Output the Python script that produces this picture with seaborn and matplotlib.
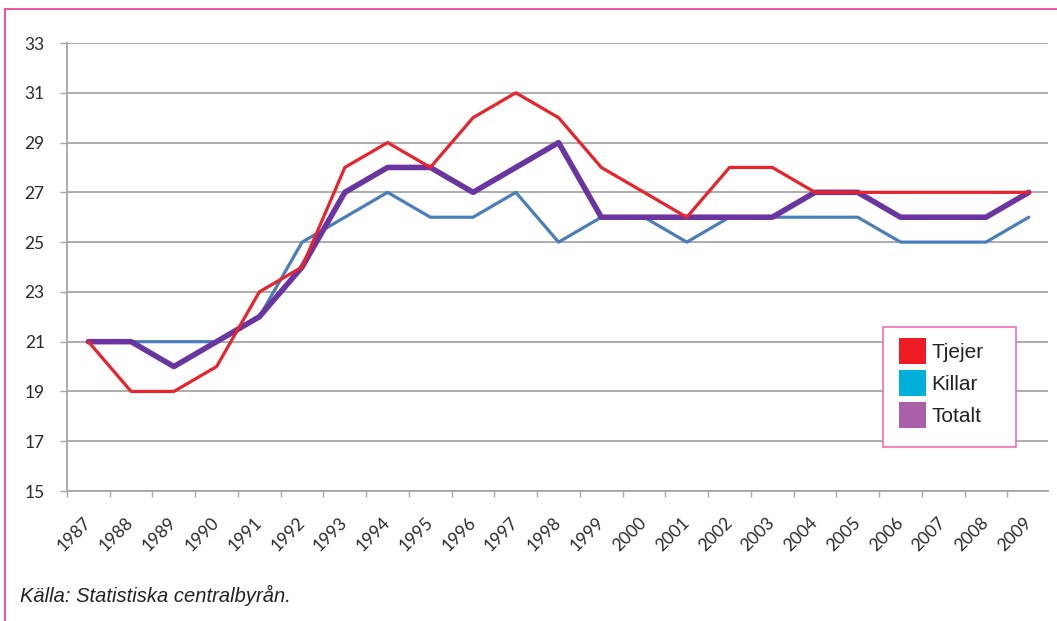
import matplotlib
matplotlib.use("Agg")
import matplotlib.pyplot as plt
import matplotlib.patches as mpatches
import matplotlib.lines as mlines
import seaborn as sns
import pandas as pd
import numpy as np

years = list(range(1987, 2010))
tjejer = [21, 19, 19, 20, 23, 24, 28, 29, 28, 30, 31, 30, 28, 27, 26, 28, 28, 27, 27, 27, 27, 27, 27]
killar = [21, 21, 21, 21, 22, 25, 26, 27, 26, 26, 27, 25, 26, 26, 25, 26, 26, 26, 26, 25, 25, 25, 26]
totalt = [21, 21, 20, 21, 22, 24, 27, 28, 28, 27, 28, 29, 26, 26, 26, 26, 26, 27, 27, 26, 26, 26, 27]
y_ticks = [15, 17, 19, 21, 23, 25, 27, 29, 31, 33]
legend_labels = ["Tjejer", "Killar", "Totalt"]
legend_colors = ["#ed1c24", "#00b0d8", "#a960a8"]
source_text = "Källa: Statistiska centralbyrån."

df = pd.DataFrame({"year": years, "Tjejer": tjejer, "Killar": killar, "Totalt": totalt})

sns.set_theme(style="white")
plt.rcParams['font.family'] = ['Lato', 'DejaVu Sans']

W, H = 1057, 621
fig = plt.figure(figsize=(W/100, H/100), dpi=100)
ax = fig.add_axes([67/W, 1-491/H, 981/W, 448/H])

grid_c = "#a6a6a6"
for v in y_ticks:
    ax.axhline(v, color=grid_c, lw=1.3, zorder=1)

sns.lineplot(data=df, x="year", y="Killar", ax=ax, color="#4a7ebb", lw=2.3, zorder=3)
sns.lineplot(data=df, x="year", y="Totalt", ax=ax, color="#6a35a0", lw=4.0, zorder=4)
sns.lineplot(data=df, x="year", y="Tjejer", ax=ax, color="#e8232b", lw=2.3, zorder=5)

ax.set_xlim(1986.5, 2009.45)
ax.set_ylim(15, 33)
ax.set_xlabel("")
ax.set_ylabel("")
ax.set_yticks(y_ticks)
ax.set_yticklabels([str(v) for v in y_ticks], fontsize=12.5, color="#2a2a2a")
ax.set_xticks(years)
ax.set_xticklabels([str(y) for y in years], rotation=45, ha="right", va="center",
                   rotation_mode="anchor", fontsize=12.5, color="#2a2a2a")
ax.set_xticks([y + 0.5 for y in years[:-1]] + [1986.5], minor=True)
ax.tick_params(axis="x", which="major", length=0, pad=21)
ax.tick_params(axis="x", which="minor", length=4, color=grid_c, width=1, direction="out", bottom=True)
ax.tick_params(axis="y", which="major", length=5, color=grid_c, width=1, direction="out", left=True, pad=11)

for s in ["top", "right"]:
    ax.spines[s].set_visible(False)
ax.spines["left"].set_color(grid_c)
ax.spines["left"].set_linewidth(1.3)
ax.spines["bottom"].set_color(grid_c)
ax.spines["bottom"].set_linewidth(1.3)
ax.spines["left"].set_zorder(2)

# legend box drawn in figure coordinates
fig.add_artist(mpatches.Rectangle((883/W, 1-447/H), 133/W, 120/H, transform=fig.transFigure,
                                  facecolor="white", edgecolor="#f06eb4", lw=1.2, zorder=10))
row_top = 338
for i, (lab, col) in enumerate(zip(legend_labels, legend_colors)):
    top = row_top + 32 * i
    fig.add_artist(mpatches.Rectangle((899/W, 1-(top+26)/H), 27/W, 26/H, transform=fig.transFigure,
                                      facecolor=col, edgecolor="none", zorder=11))
    fig.text(931/W, 1-(top+14)/H, lab, fontsize=15, family="Liberation Sans",
             color="#222222", va="center", ha="left", zorder=12)

fig.text(20/W, 1-595/H, source_text, fontsize=14.5, style="italic",
         family="Liberation Sans", color="#222222", va="center", ha="left")

# outer pink frame (top and left edges)
fig.add_artist(mlines.Line2D([5/W, 1], [1-9/H, 1-9/H], color="#e8489a", lw=1.3))
fig.add_artist(mlines.Line2D([5/W, 5/W], [0, 1-9/H], color="#e8489a", lw=1.3))

fig.savefig("out.png", dpi=100, facecolor="white")
